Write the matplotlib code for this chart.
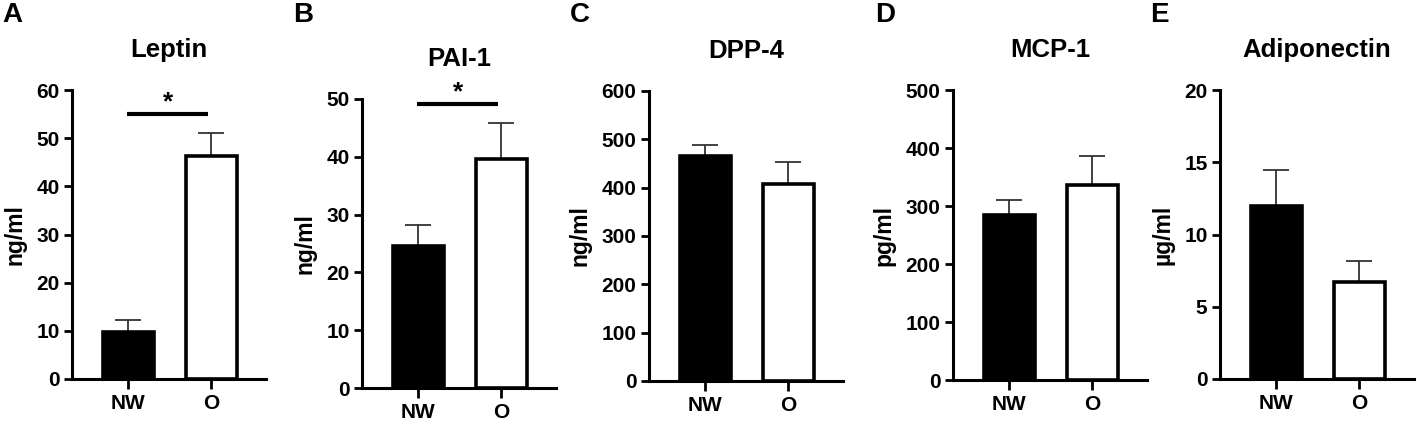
import numpy as np
import matplotlib.pyplot as plt

plt.rcParams['font.family'] = ['Liberation Sans', 'DejaVu Sans']
plt.rcParams['font.weight'] = 'bold'

groups = ['NW', 'O']

letters = ['A', 'B', 'C', 'D', 'E']
titles = ['Leptin', 'PAI-1', 'DPP-4', 'MCP-1', 'Adiponectin']
units = ['ng/ml', 'ng/ml', 'ng/ml', 'pg/ml', '\u00b5g/ml']

leptin = [9.7, 46.4]
leptin_err = [2.6, 4.7]
pai1 = [24.6, 39.7]
pai1_err = [3.6, 6.1]
dpp4 = [466, 408]
dpp4_err = [23, 46]
mcp1 = [284, 336]
mcp1_err = [26, 50]
adipo = [12.0, 6.7]
adipo_err = [2.45, 1.45]

ymax = [60, 50, 600, 500, 20]
ystep = [10, 10, 100, 100, 5]

# significance bar height (data units), None if no star
sig_y = [55, 49.1, None, None, None]

values = [leptin, pai1, dpp4, mcp1, adipo]
errors = [leptin_err, pai1_err, dpp4_err, mcp1_err, adipo_err]

W, H = 1417, 424
fig = plt.figure(figsize=(W / 100, H / 100), dpi=100)

# axes pixel boxes: left, bottom y, top y
boxes = [(72, 379, 90), (362, 388, 99), (649, 381, 91), (953, 380, 90), (1220, 379, 90)]
ax_w = 194

x = np.arange(len(groups))
for i in range(5):
    l, b, t = boxes[i]
    ax = fig.add_axes([l / W, (H - b) / H, ax_w / W, (b - t) / H])
    ax.bar(x, values[i], width=0.62, color=['black', 'white'],
           edgecolor='black', linewidth=2.6, zorder=2)
    ax.errorbar(x, values[i], yerr=[[0, 0], errors[i]], fmt='none',
                ecolor='#333333', elinewidth=1.3, capsize=9.5, capthick=1.3, zorder=1)
    ax.set_xlim(-0.68, 1.66)
    ax.set_ylim(0, ymax[i])
    ax.set_yticks(np.arange(0, ymax[i] + 1e-9, ystep[i]))
    ax.set_xticks(x)
    ax.set_xticklabels(groups)
    for s in ['top', 'right']:
        ax.spines[s].set_visible(False)
    for s in ['left', 'bottom']:
        ax.spines[s].set_linewidth(2.2)
    ax.tick_params(axis='y', length=6, width=2, labelsize=15, pad=3)
    ax.tick_params(axis='x', length=7, width=2, labelsize=15, pad=4)
    ax.set_ylabel(units[i], fontsize=16.5, fontweight='bold', labelpad=7)
    ax.set_title(titles[i], fontsize=18.5, fontweight='bold', pad=24)
    if sig_y[i] is not None:
        ax.plot([-0.02, 0.96], [sig_y[i], sig_y[i]], color='black', lw=3,
                solid_capstyle='butt', clip_on=False)
        ax.text(0.48, sig_y[i], '*', ha='center', va='bottom', fontsize=19,
                fontweight='bold')

letter_x = [2, 293, 570, 875, 1150]
for i in range(5):
    fig.text(letter_x[i] / W, 1 - 15 / H, letters[i], fontsize=20,
             fontweight='bold', ha='left', va='center')

fig.savefig('out.png', dpi=100)
